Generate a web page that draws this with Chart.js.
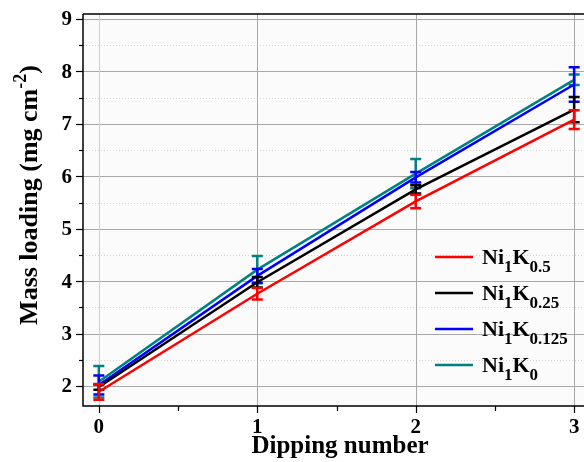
<!DOCTYPE html>
<html>
<head>
<meta charset="utf-8">
<script src="https://cdn.jsdelivr.net/npm/chart.js@4.4.1/dist/chart.umd.min.js"></script>
<style>
html,body{margin:0;padding:0;background:#fff;overflow:hidden;}
#wrap{position:absolute;left:0;top:0;width:600px;height:462px;}
</style>
</head>
<body>
<div id="wrap"><canvas id="c" width="600" height="462"></canvas></div>
<script>
// ---- data ----
const categories = [0, 1, 2, 3];
const xTicks = [0, 1, 2, 3];
const yTicks = [2, 3, 4, 5, 6, 7, 8, 9];
const seriesSubs = ["0.5", "0.25", "0.125", "0"];
const red   = [1.89, 3.76, 5.52, 7.08];
const redErr   = [0.15, 0.11, 0.13, 0.18];
const black = [1.98, 3.98, 5.75, 7.27];
const blackErr = [0.05, 0.10, 0.08, 0.24];
const blue  = [2.02, 4.10, 5.98, 7.75];
const blueErr  = [0.18, 0.13, 0.10, 0.33];
const teal  = [2.08, 4.22, 6.05, 7.84];
const tealErr  = [0.30, 0.26, 0.28, 0.10];
const xTitle = "Dipping number";
const yTitle = ["Mass loading (mg cm", "-2", ")"];

const colors = ["#ff0000", "#000000", "#0000ff", "#008080"];
const values = [red, black, blue, teal];
const errs = [redErr, blackErr, blueErr, tealErr];

const SERIF = '"Liberation Serif", "Times New Roman", serif';

const datasets = values.map((v, i) => ({
  label: "Ni1K" + seriesSubs[i],
  data: categories.map((x, j) => ({x: x, y: v[j]})),
  borderColor: colors[i],
  backgroundColor: colors[i],
  borderWidth: 2.5,
  pointRadius: 0,
  tension: 0,
  err: errs[i]
}));

const deco = {
  id: 'deco',
  beforeDatasetsDraw(chart) {
    const {ctx, chartArea: a, scales: {x, y}} = chart;
    ctx.save();
    ctx.fillStyle = '#fbfbfb';
    ctx.fillRect(a.left, a.top, a.right - a.left, a.bottom - a.top);
    ctx.strokeStyle = '#d4d4d4';
    ctx.lineWidth = 1;
    ctx.setLineDash([1, 2]);
    for (let v = 2.5; v < 9; v += 1) {
      const py = Math.round(y.getPixelForValue(v)) + 0.5;
      ctx.beginPath(); ctx.moveTo(a.left, py); ctx.lineTo(a.right, py); ctx.stroke();
    }
    ctx.setLineDash([]);
    ctx.strokeStyle = '#a8a8a8';
    yTicks.forEach(v => {
      const py = Math.round(y.getPixelForValue(v)) + 0.5;
      ctx.beginPath(); ctx.moveTo(a.left, py); ctx.lineTo(a.right, py); ctx.stroke();
    });
    xTicks.forEach(v => {
      const px = Math.round(x.getPixelForValue(v)) + 0.5;
      ctx.strokeStyle = v === 0 ? '#d0d0d0' : '#a8a8a8';
      ctx.beginPath(); ctx.moveTo(px, a.top); ctx.lineTo(px, a.bottom); ctx.stroke();
    });
    ctx.restore();
  },
  afterDatasetDraw(chart, args) {
    const {ctx, scales: {x, y}} = chart;
    const ds = chart.data.datasets[args.index];
    ctx.save();
    ctx.strokeStyle = ds.borderColor;
    ctx.lineWidth = 2.5;
    ds.data.forEach((p, j) => {
      const e = ds.err[j];
      const px = x.getPixelForValue(p.x);
      const t = y.getPixelForValue(p.y + e), b = y.getPixelForValue(p.y - e);
      ctx.beginPath();
      ctx.moveTo(px, t); ctx.lineTo(px, b);
      ctx.moveTo(px - 5.5, t); ctx.lineTo(px + 5.5, t);
      ctx.moveTo(px - 5.5, b); ctx.lineTo(px + 5.5, b);
      ctx.stroke();
    });
    ctx.restore();
  },
  afterDraw(chart) {
    const {ctx, chartArea: a, scales: {x, y}} = chart;
    ctx.save();
    ctx.strokeStyle = '#000';
    ctx.lineWidth = 1.5;
    ctx.beginPath();
    ctx.moveTo(a.left, a.top); ctx.lineTo(a.right, a.top);
    ctx.moveTo(a.left, a.top); ctx.lineTo(a.left, a.bottom); ctx.lineTo(a.right, a.bottom);
    ctx.stroke();
    ctx.lineWidth = 1.2;
    for (let v = 2; v <= 9.01; v += 0.5) {
      const py = Math.round(y.getPixelForValue(v)) + 0.5;
      const len = Number.isInteger(v) ? 7 : 4;
      ctx.beginPath(); ctx.moveTo(a.left, py); ctx.lineTo(a.left - len, py); ctx.stroke();
    }
    for (let v = 0; v <= 3.01; v += 0.5) {
      const px = Math.round(x.getPixelForValue(v)) + 0.5;
      const len = Number.isInteger(v) ? 7 : 5;
      ctx.beginPath(); ctx.moveTo(px, a.bottom); ctx.lineTo(px, a.bottom + len); ctx.stroke();
    }
    // tick labels from the scales
    ctx.fillStyle = '#000';
    ctx.font = 'bold 21px ' + SERIF;
    ctx.textAlign = 'right';
    ctx.textBaseline = 'middle';
    yTicks.forEach(v => ctx.fillText(String(v), a.left - 11, y.getPixelForValue(v) + 1));
    ctx.textAlign = 'center';
    ctx.textBaseline = 'alphabetic';
    xTicks.forEach(v => ctx.fillText(String(v), x.getPixelForValue(v), a.bottom + 27));
    // titles
    ctx.font = 'bold 25px ' + SERIF;
    ctx.fillText(xTitle, 340, 453);
    ctx.save();
    ctx.translate(37, 195);
    ctx.rotate(-Math.PI / 2);
    const f1 = 'bold 26px ' + SERIF, f2 = 'bold 18px ' + SERIF;
    ctx.font = f1; const w1 = ctx.measureText(yTitle[0]).width;
    ctx.font = f2; const w2 = ctx.measureText(yTitle[1]).width;
    ctx.font = f1; const w3 = ctx.measureText(yTitle[2]).width;
    let sx = -(w1 + w2 + w3) / 2;
    ctx.textAlign = 'left';
    ctx.font = f1; ctx.fillText(yTitle[0], sx, 0); sx += w1;
    ctx.font = f2; ctx.fillText(yTitle[1], sx, -11); sx += w2;
    ctx.font = f1; ctx.fillText(yTitle[2], sx, 0);
    ctx.restore();
    // legend
    const ly = [257, 293, 329, 365];
    const fm = 'bold 22px ' + SERIF, fs = 'bold 17px ' + SERIF;
    chart.data.datasets.forEach((ds, i) => {
      const yy = ly[i];
      ctx.strokeStyle = ds.borderColor;
      ctx.lineWidth = 2.5;
      ctx.beginPath(); ctx.moveTo(435, yy); ctx.lineTo(473, yy); ctx.stroke();
      let tx = 482;
      const base = yy + 7;
      ctx.textAlign = 'left';
      ctx.fillStyle = '#000';
      ctx.font = fm; ctx.fillText('Ni', tx, base); tx += ctx.measureText('Ni').width;
      ctx.font = fs; ctx.fillText('1', tx, base + 8); tx += ctx.measureText('1').width;
      ctx.font = fm; ctx.fillText('K', tx, base); tx += ctx.measureText('K').width;
      ctx.font = fs; ctx.fillText(seriesSubs[i], tx, base + 8);
    });
    ctx.restore();
  }
};

new Chart(document.getElementById('c'), {
  type: 'line',
  data: { datasets },
  options: {
    responsive: false,
    animation: false,
    events: [],
    layout: { padding: { top: 14, right: 10, left: 0, bottom: 0 } },
    plugins: { legend: { display: false }, tooltip: { enabled: false } },
    scales: {
      x: {
        type: 'linear', min: -0.1, max: 3.1,
        afterBuildTicks: s => { s.ticks = xTicks.map(v => ({value: v})); },
        afterFit: s => { s.height = 56; },
        grid: { display: false },
        border: { display: false },
        ticks: { display: false }
      },
      y: {
        type: 'linear', min: 1.619, max: 9.095,
        afterBuildTicks: s => { s.ticks = yTicks.map(v => ({value: v})); },
        afterFit: s => { s.width = 83; },
        grid: { display: false },
        border: { display: false },
        ticks: { display: false }
      }
    }
  },
  plugins: [deco]
});
</script>
</body>
</html>
